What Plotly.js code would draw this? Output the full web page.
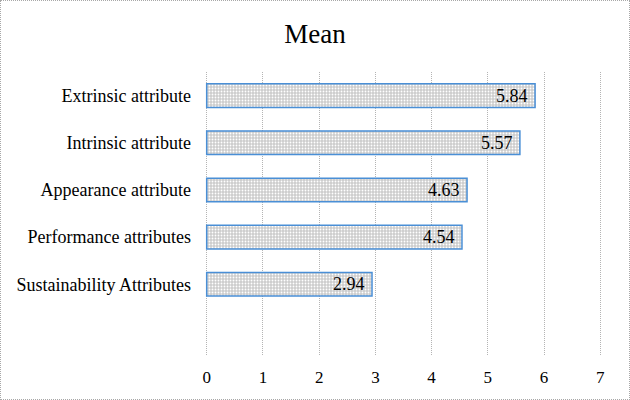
<!DOCTYPE html>
<html>
<head>
<meta charset="utf-8">
<script src="https://cdn.plot.ly/plotly-3.0.1.min.js"></script>
<style>
html,body{margin:0;padding:0;background:#fff;}
#wrap{position:relative;width:630px;height:400px;}
#chart{width:630px;height:400px;}
#frame{position:absolute;left:0;top:0;width:630px;height:400px;box-sizing:border-box;border:1px dotted #a8a8a8;pointer-events:none;}
</style>
</head>
<body>
<div id="wrap"><div id="chart"></div><div id="frame"></div></div>
<script>
const categories = ["Sustainability Attributes", "Performance attributes", "Appearance attribute", "Intrinsic attribute", "Extrinsic attribute"];
const meanValues = [2.94, 4.54, 4.63, 5.57, 5.84];
const valueLabels = ["2.94", "4.54", "4.63", "5.57", "5.84"];
const xTicks = [0, 1, 2, 3, 4, 5, 6, 7];

const trace = {
  type: "bar",
  orientation: "h",
  y: categories,
  x: meanValues,
  text: valueLabels,
  texttemplate: "%{text}\u00a0",
  textposition: "inside",
  insidetextanchor: "end",
  constraintext: "none",
  textfont: {family: "Liberation Serif", size: 18, color: "#000"},
  width: 0.5,
  marker: {
    color: "#d4d4d4",
    line: {color: "#4a8fd6", width: 1.5},
    pattern: {shape: ".", fgcolor: "#ffffff", bgcolor: "#cccccc", size: 3, solidity: 0.3, fillmode: "replace"}
  },
  hoverinfo: "skip"
};

const layout = {
  width: 630,
  height: 400,
  margin: {l: 205, r: 28, t: 72, b: 45},
  paper_bgcolor: "#ffffff",
  plot_bgcolor: "#ffffff",
  showlegend: false,
  title: {
    text: "Mean",
    font: {family: "Liberation Serif", size: 27, color: "#000"},
    x: 0.5, xref: "container", y: 0.915, yref: "container", yanchor: "middle"
  },
  xaxis: {
    range: [-0.03, 7.03],
    tickvals: xTicks,
    ticktext: xTicks.map(String),
    showgrid: true,
    gridcolor: "#b4b4b4",
    griddash: "1px,1px",
    gridwidth: 1,
    zeroline: false,
    showline: false,
    ticks: "",
    tickfont: {family: "Liberation Serif", size: 17, color: "#000"},
    ticklabelstandoff: 10,
    fixedrange: true
  },
  yaxis: {
    type: "category",
    range: [-1.5, 4.5],
    showgrid: false,
    zeroline: false,
    showline: false,
    ticks: "",
    tickfont: {family: "Liberation Serif", size: 18, color: "#000"},
    ticklabelstandoff: 13,
    fixedrange: true
  }
};

Plotly.newPlot("chart", [trace], layout, {displayModeBar: false, staticPlot: true});
</script>
</body>
</html>
